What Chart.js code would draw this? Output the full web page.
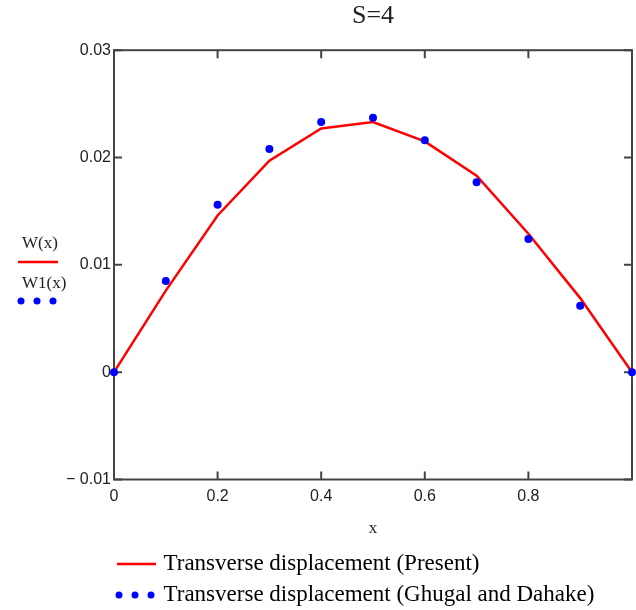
<!DOCTYPE html>
<html>
<head>
<meta charset="utf-8">
<script src="https://cdn.jsdelivr.net/npm/chart.js@4.4.1/dist/chart.umd.min.js"></script>
<style>
  html, body { margin: 0; padding: 0; background: #fff; }
</style>
</head>
<body>
<canvas id="js--chart--1" width="636" height="610"></canvas>
<script>
// x positions along the beam
const xValues = [0, 0.1, 0.2, 0.3, 0.4, 0.5, 0.6, 0.7, 0.8, 0.9, 1.0];
// W(x) - present theory (red line)
const presentValues = [0, 0.0076, 0.0146, 0.0197, 0.0227, 0.0233, 0.0215, 0.0183, 0.0129, 0.0069, 0];
// W1(x) - Ghugal and Dahake (blue dots)
const ghugalValues = [0, 0.0085, 0.0156, 0.0208, 0.0233, 0.0237, 0.0216, 0.0177, 0.0124, 0.0062, 0];

const xTicks = [0, 0.2, 0.4, 0.6, 0.8];
const xTickLabels = ["0", "0.2", "0.4", "0.6", "0.8"];
const yTicks = [-0.01, 0, 0.01, 0.02, 0.03];
const yTickLabels = ["\u2212 0.01", "0", "0.01", "0.02", "0.03"];

const seriesNames = [
    "Transverse displacement (Present)",
    "Transverse displacement (Ghugal and Dahake)",
];

function findLabel(ticks, labels, v) {
    for (let i = 0; i < ticks.length; i++) {
        if (Math.abs(ticks[i] - v) < 1e-9) return labels[i];
    }
    return "";
}

// little pictures for the legend
function legendLine() {
    const c = document.createElement("canvas");
    c.width = 48; c.height = 10;
    const g = c.getContext("2d");
    g.strokeStyle = "#ff0000";
    g.lineWidth = 2.5;
    g.beginPath();
    g.moveTo(4, 5);
    g.lineTo(43, 5);
    g.stroke();
    return c;
}
function legendDots() {
    const c = document.createElement("canvas");
    c.width = 48; c.height = 10;
    const g = c.getContext("2d");
    g.fillStyle = "#0000ff";
    [6, 22, 38].forEach(cx => {
        g.beginPath();
        g.arc(cx, 5, 3.5, 0, Math.PI * 2);
        g.fill();
    });
    return c;
}

const framePlugin = {
    id: "frame",
    beforeDatasetsDraw(chart) {
        const {ctx, chartArea: a, scales: {x, y}} = chart;
        ctx.save();
        ctx.strokeStyle = "#444";
        ctx.lineWidth = 2;
        ctx.strokeRect(a.left, a.top, a.right - a.left, a.bottom - a.top);
        ctx.beginPath();
        xTicks.forEach(v => {
            const px = x.getPixelForValue(v);
            ctx.moveTo(px, a.bottom); ctx.lineTo(px, a.bottom - 8);
            ctx.moveTo(px, a.top); ctx.lineTo(px, a.top + 8);
        });
        yTicks.forEach(v => {
            const py = y.getPixelForValue(v);
            ctx.moveTo(a.left, py); ctx.lineTo(a.left + 8, py);
            ctx.moveTo(a.right, py); ctx.lineTo(a.right - 8, py);
        });
        ctx.stroke();
        ctx.restore();
    }
};

// Mathcad style trace names on the left of the y axis
const sideLabelPlugin = {
    id: "sideLabel",
    afterDraw(chart) {
        const ctx = chart.ctx;
        ctx.save();
        ctx.font = "17px 'Liberation Serif'";
        ctx.fillStyle = "#222";
        ctx.textAlign = "left";
        ctx.textBaseline = "middle";
        ctx.fillText("W(x)", 22, 244);
        ctx.fillText("W1(x)", 22, 284);
        ctx.strokeStyle = "#ff0000";
        ctx.lineWidth = 2.5;
        ctx.beginPath();
        ctx.moveTo(18, 262);
        ctx.lineTo(58, 262);
        ctx.stroke();
        ctx.fillStyle = "#0000ff";
        [21, 37, 53].forEach(cx => {
            ctx.beginPath();
            ctx.arc(cx, 301, 3.5, 0, Math.PI * 2);
            ctx.fill();
        });
        ctx.restore();
    }
};

const data = {
    datasets: [
        {
            label: seriesNames[0],
            data: xValues.map((v, i) => ({x: v, y: presentValues[i]})),
            showLine: true,
            borderColor: "#ff0000",
            borderWidth: 2.5,
            pointRadius: 0,
            tension: 0,
            order: 2,
            clip: false,
        },
        {
            label: seriesNames[1],
            data: xValues.map((v, i) => ({x: v, y: ghugalValues[i]})),
            showLine: false,
            backgroundColor: "#0000ff",
            borderWidth: 0,
            pointRadius: 4,
            order: 1,
            clip: false,
        }
    ]
};

const config = {
    type: "scatter",
    data: data,
    options: {
        responsive: false,
        animation: false,
        layout: {padding: {left: 0, right: 4, top: 0, bottom: -6.5}},
        plugins: {
            tooltip: {enabled: false},
            title: {
                display: true,
                text: "S=4",
                fullSize: false,
                color: "#222",
                font: {family: "'Liberation Serif'", size: 26, weight: "normal"},
                padding: {top: 1, bottom: 18},
            },
            legend: {
                position: "bottom",
                align: "start",
                fullSize: false,
                labels: {
                    usePointStyle: true,
                    pointStyleWidth: 30,
                    padding: 8,
                    color: "#111",
                    font: {family: "'Liberation Serif'", size: 23},
                    generateLabels: () => [
                        {text: seriesNames[0], pointStyle: legendLine(), fillStyle: "#ff0000", strokeStyle: "#ff0000", lineWidth: 0, hidden: false, datasetIndex: 0},
                        {text: seriesNames[1], pointStyle: legendDots(), fillStyle: "#0000ff", strokeStyle: "#0000ff", lineWidth: 0, hidden: false, datasetIndex: 1},
                    ],
                },
            },
        },
        scales: {
            x: {
                type: "linear",
                min: 0,
                max: 1,
                afterBuildTicks: s => { s.ticks = xTicks.map(v => ({value: v})); },
                afterFit: s => { s.height = 65; },
                grid: {display: false, drawTicks: false},
                border: {display: false},
                ticks: {
                    padding: 7,
                    maxRotation: 0,
                    color: "#222",
                    font: {family: "'Liberation Sans'", size: 16},
                    callback: v => findLabel(xTicks, xTickLabels, v),
                },
                title: {
                    display: true,
                    text: "x",
                    color: "#222",
                    font: {family: "'Liberation Serif'", size: 17},
                    padding: {top: 0, bottom: 6},
                },
            },
            y: {
                type: "linear",
                min: -0.01,
                max: 0.03,
                afterBuildTicks: s => { s.ticks = yTicks.map(v => ({value: v})); },
                afterFit: s => { s.width = 114; },
                grid: {display: false, drawTicks: false},
                border: {display: false},
                ticks: {
                    padding: 3,
                    color: "#222",
                    font: {family: "'Liberation Sans'", size: 16},
                    callback: v => findLabel(yTicks, yTickLabels, v),
                },
            },
        },
    },
    plugins: [framePlugin, sideLabelPlugin],
};

new Chart(document.getElementById("js--chart--1"), config);
</script>
</body>
</html>
